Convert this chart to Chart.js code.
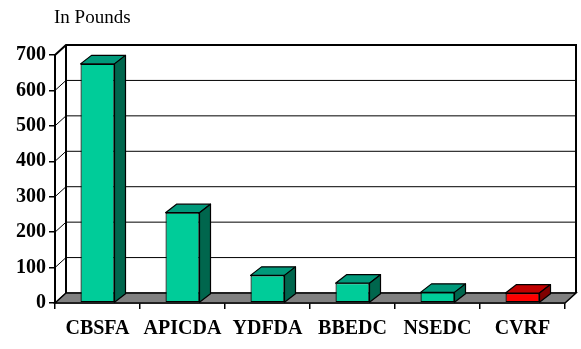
<!DOCTYPE html>
<html>
<head>
<meta charset="utf-8">
<script src="https://cdn.jsdelivr.net/npm/chart.js@4"></script>
<style>
  html, body { margin: 0; padding: 0; background: #fff; }
  #wrap { width: 581px; height: 349px; }
</style>
</head>
<body>
<div id="wrap"><canvas id="quotaChart"></canvas></div>
<script>
// values
const categories = ['CBSFA', 'APICDA', 'YDFDA', 'BBEDC', 'NSEDC', 'CVRF'];
const pounds = [675, 255, 78, 56, 30, 28];
const yMax = 700;
const yStep = 100;
const unitLabel = 'In Pounds';
const highlighted = 'CVRF';

// face colours: front / top / side
const green = ['#00CC99', '#00997A', '#00664D'];
const red = ['#FF0000', '#C00000', '#800000'];
const faceColours = categories.map(c => c === highlighted ? red : green);

// draws the back wall, floor and the top/side faces of each column
const depthPlugin = {
    id: 'depth',
    beforeDatasetsDraw(chart) {
        const { ctx, chartArea: a, scales: { y } } = chart;
        const dx = 11, dy = 10;
        ctx.save();
        ctx.strokeStyle = '#000';
        ctx.lineWidth = 1;
        y.ticks.forEach(t => {
            const py = y.getPixelForValue(t.value);
            ctx.beginPath();
            ctx.moveTo(a.left, py);
            ctx.lineTo(a.left + dx, py - dy);
            ctx.lineTo(a.right + dx, py - dy);
            ctx.stroke();
        });
        // wall outline
        ctx.lineWidth = 2;
        ctx.beginPath();
        ctx.moveTo(a.left, a.top);
        ctx.lineTo(a.left + dx, a.top - dy);
        ctx.lineTo(a.right + dx, a.top - dy);
        ctx.lineTo(a.right + dx, a.bottom - dy);
        ctx.moveTo(a.left + dx, a.top - dy);
        ctx.lineTo(a.left + dx, a.bottom - dy);
        ctx.stroke();
        // floor
        ctx.beginPath();
        ctx.moveTo(a.left, a.bottom);
        ctx.lineTo(a.right, a.bottom);
        ctx.lineTo(a.right + dx, a.bottom - dy);
        ctx.lineTo(a.left + dx, a.bottom - dy);
        ctx.closePath();
        ctx.fillStyle = '#808080';
        ctx.fill();
        ctx.lineWidth = 1.5;
        ctx.stroke();
        ctx.restore();
    },
    afterDatasetsDraw(chart) {
        const ctx = chart.ctx;
        const dx = 11, dy = 8.5;
        ctx.save();
        ctx.strokeStyle = '#000';
        ctx.lineWidth = 1.2;
        ctx.lineJoin = 'round';
        chart.getDatasetMeta(0).data.forEach((bar, i) => {
            const x1 = bar.x - bar.width / 2;
            const x2 = bar.x + bar.width / 2;
            const top = bar.y;
            const base = bar.base;
            // top face
            ctx.beginPath();
            ctx.moveTo(x1, top);
            ctx.lineTo(x2, top);
            ctx.lineTo(x2 + dx, top - dy);
            ctx.lineTo(x1 + dx, top - dy);
            ctx.closePath();
            ctx.fillStyle = faceColours[i][1];
            ctx.fill();
            ctx.stroke();
            // side face
            ctx.beginPath();
            ctx.moveTo(x2, top);
            ctx.lineTo(x2 + dx, top - dy);
            ctx.lineTo(x2 + dx, base - dy);
            ctx.lineTo(x2, base);
            ctx.closePath();
            ctx.fillStyle = faceColours[i][2];
            ctx.fill();
            ctx.stroke();
        });
        ctx.restore();
    },
    afterDraw(chart) {
        const ctx = chart.ctx;
        ctx.save();
        ctx.font = '19px "Liberation Serif"';
        ctx.fillStyle = '#000';
        ctx.textBaseline = 'alphabetic';
        ctx.fillText(unitLabel, 54, 23);
        ctx.restore();
    }
};

document.addEventListener('DOMContentLoaded', function () {
    const ctx = document.getElementById('quotaChart').getContext('2d');

    new Chart(ctx, {
        type: 'bar',
        data: {
            labels: categories,
            datasets: [{
                data: pounds,
                backgroundColor: faceColours.map(c => c[0]),
                borderColor: '#000',
                borderWidth: 1.2,
                borderSkipped: false,
                barPercentage: 0.4,
                categoryPercentage: 1
            }]
        },
        options: {
            responsive: true,
            maintainAspectRatio: false,
            animation: false,
            layout: { padding: { top: 55, right: 16, left: 0, bottom: 0 } },
            plugins: {
                legend: { display: false },
                tooltip: { enabled: false }
            },
            scales: {
                x: {
                    offset: true,
                    grid: {
                        offset: true,
                        drawOnChartArea: false,
                        tickLength: 6,
                        color: '#000',
                        lineWidth: 1.5
                    },
                    border: { display: true, color: '#000', width: 1.5 },
                    ticks: {
                        color: '#000',
                        padding: 8,
                        maxRotation: 0,
                        font: { family: 'Liberation Serif', size: 20, weight: 'bold' }
                    },
                    afterFit: s => { s.height = 46; }
                },
                y: {
                    min: 0,
                    max: yMax,
                    grid: {
                        drawOnChartArea: false,
                        tickLength: 6,
                        color: '#000',
                        lineWidth: 1.5
                    },
                    border: { display: true, color: '#000', width: 2 },
                    ticks: {
                        stepSize: yStep,
                        color: '#000',
                        padding: 3,
                        font: { family: 'Liberation Serif', size: 20, weight: 'bold' }
                    },
                    afterFit: s => { s.width = 55; }
                }
            }
        },
        plugins: [depthPlugin]
    });
});
</script>
</body>
</html>
